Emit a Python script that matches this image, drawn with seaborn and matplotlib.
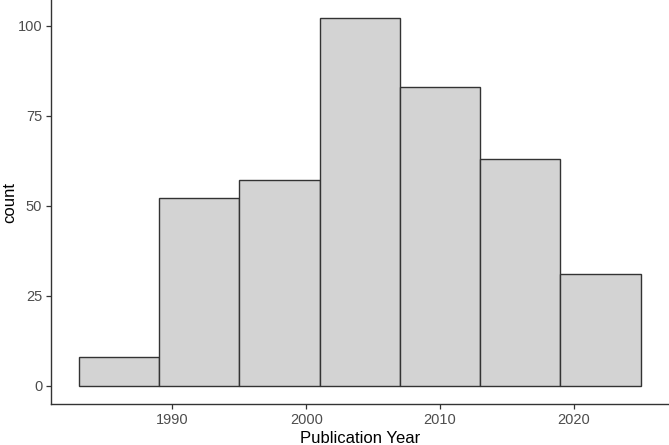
import matplotlib
matplotlib.use("Agg")
import matplotlib.pyplot as plt
import seaborn as sns
import pandas as pd

# Data
bin_centers = [1986, 1992, 1998, 2004, 2010, 2016, 2022]
counts = [8, 52, 57, 102, 83, 63, 31]
bin_edges = [1983, 1989, 1995, 2001, 2007, 2013, 2019, 2025]
x_ticks = [1990, 2000, 2010, 2020]
y_ticks = [0, 25, 50, 75, 100]

sns.set_theme(style="white")
plt.rcParams['font.family'] = ['Liberation Sans', 'DejaVu Sans']

df = pd.DataFrame({"year": bin_centers, "n": counts})

fig = plt.figure(figsize=(6.69, 4.45), dpi=100)
ax = fig.add_axes([0.0758, 0.092, 0.924, 0.908])

sns.histplot(data=df, x="year", weights="n", bins=bin_edges, stat="count",
             color="#D3D3D3", edgecolor="#333333", linewidth=1.0, alpha=1.0, ax=ax)

xr = bin_edges[-1] - bin_edges[0]
ax.set_xlim(bin_edges[0] - 0.05 * xr, bin_edges[-1] + 0.05 * xr)
ymax = max(counts)
ax.set_ylim(-0.05 * ymax, ymax * 1.05)
ax.set_xticks(x_ticks)
ax.set_yticks(y_ticks)

for s in ["top", "right"]:
    ax.spines[s].set_visible(False)
for s in ["left", "bottom"]:
    ax.spines[s].set_color("#333333")
    ax.spines[s].set_linewidth(1.0)

ax.tick_params(axis="both", which="major", length=3.6, width=0.9, color="#333333",
               labelcolor="#4D4D4D", labelsize=10.5, pad=2.5, left=True, bottom=True)
ax.set_xlabel("Publication Year", fontsize=12, color="black", labelpad=3)
ax.set_ylabel("count", fontsize=12, color="black", labelpad=0.5)
ax.grid(False)

fig.savefig("out.png", dpi=100)
